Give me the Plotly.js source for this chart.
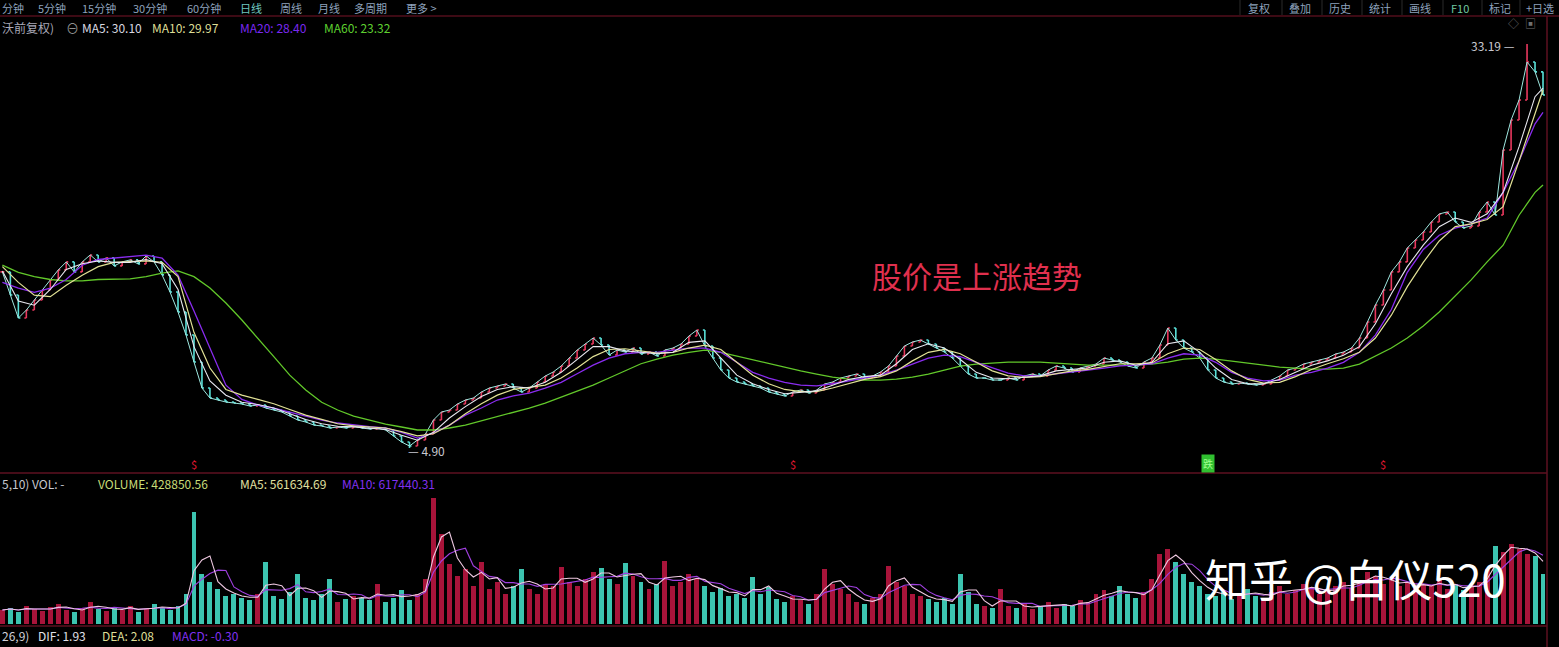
<!DOCTYPE html>
<html>
<head>
<meta charset="utf-8">
<script src="https://cdn.plot.ly/plotly-3.0.1.min.js"></script>
<style>
html,body{margin:0;padding:0;background:#000;}
#chart{width:1559px;height:647px;}
</style>
</head>
<body>
<div id="chart"></div>
<script>
// ---------- DATA ----------
// each point stands for roughly two trading sessions
const closes = [
17.23,15.61,14.00,14.56,15.26,15.96,16.67,17.37,17.93,17.23,
17.93,18.42,17.93,18.21,17.65,17.93,18.07,17.79,18.35,17.93,
17.02,15.82,14.42,12.81,10.92,9.10,8.40,8.26,8.12,8.05,
7.98,7.84,7.91,7.70,7.56,7.42,7.14,6.86,6.72,6.51,
6.44,6.30,6.37,6.30,6.44,6.30,6.23,6.30,6.16,5.74,
5.32,5.04,5.46,5.88,6.86,7.42,7.56,7.98,8.26,8.40,
8.82,9.10,9.24,9.38,9.10,8.82,9.10,9.52,9.94,10.22,
10.64,11.20,11.76,12.18,12.60,12.11,11.41,11.76,11.62,11.90,
11.48,11.62,11.34,11.76,11.90,12.18,12.74,13.16,12.04,11.20,
10.36,9.80,9.52,9.38,9.24,9.10,8.82,8.68,8.54,8.82,
8.96,8.75,8.96,9.38,9.52,9.80,9.94,10.08,9.80,9.94,
10.22,10.64,11.34,12.04,12.32,12.46,12.18,11.90,11.62,11.20,
10.64,10.08,9.80,9.80,9.66,9.66,9.80,9.66,9.94,10.08,
9.94,10.36,10.64,10.50,10.22,10.50,10.64,10.78,11.20,11.06,
10.92,10.64,10.50,10.92,11.20,12.11,13.30,12.46,11.90,11.62,
11.20,10.36,9.80,9.52,9.38,9.45,9.38,9.31,9.38,9.66,
9.94,10.36,10.50,10.78,10.92,11.06,11.20,11.48,11.62,11.90,
12.60,13.72,14.91,15.96,17.23,17.93,18.91,19.47,20.03,20.73,
21.29,21.43,20.73,20.31,20.45,21.43,22.13,21.22,25.77,27.87,
29.27,31.93,31.24,29.62];

// volume, in 万手
const volumes = [
12.0,13.7,10.3,15.4,12.9,11.1,14.6,17.1,12.0,10.3,
13.7,18.9,12.9,11.1,14.6,12.0,15.4,10.3,12.9,17.1,
13.7,12.0,15.4,25.7,96.0,42.9,36.0,30.0,24.0,25.7,
22.3,20.6,25.7,53.1,24.0,21.4,27.4,42.9,22.3,20.6,
25.7,38.6,18.9,21.4,24.0,22.3,20.6,34.3,18.9,22.3,
29.1,20.6,25.7,38.6,108.0,77.1,51.4,41.1,47.1,32.6,
53.1,30.0,36.0,25.7,32.6,47.1,30.0,25.7,34.3,32.6,
48.8,36.0,32.6,38.6,44.6,48.0,38.6,34.3,52.3,41.1,
36.0,30.0,34.3,54.0,32.6,36.0,42.9,38.6,32.6,27.4,
30.9,24.0,25.7,22.3,40.3,25.7,31.7,21.4,18.9,24.0,
20.6,17.1,25.7,47.1,34.3,30.0,25.7,18.9,17.1,22.3,
25.7,49.7,36.0,32.6,25.7,24.0,21.4,18.9,22.3,17.1,
42.9,27.4,17.1,15.4,13.7,30.0,15.4,13.7,17.1,12.9,
15.4,18.9,13.7,17.1,15.4,20.6,18.9,25.7,29.1,24.0,
32.6,25.7,22.3,27.4,38.6,60.0,64.3,53.1,42.9,36.0,
32.6,25.7,24.0,27.4,21.4,25.7,30.0,24.0,22.3,27.4,
32.6,25.7,29.1,34.3,30.9,25.7,29.1,32.6,36.0,30.9,
37.7,44.6,41.1,34.3,38.6,32.6,36.0,30.9,34.3,32.6,
37.7,30.0,34.3,29.1,32.6,36.0,47.1,66.8,61.7,68.6,
64.3,60.0,58.3,42.9];

// moving-average lines, one value every 2 points (last = final point)
const maStep = 2;
const ma5 = [17.3,15.2,14.9,16.0,17.4,17.8,18.0,17.9,17.9,18.1,
17.8,16.0,12.0,9.6,8.6,8.1,7.95,7.7,7.3,6.9,
6.6,6.42,6.38,6.3,6.2,5.8,5.45,6.0,7.0,7.8,
8.5,9.0,9.2,9.1,9.5,10.2,11.1,12.0,12.0,11.7,
11.6,11.5,11.6,12.3,12.4,11.2,10.0,9.4,9.0,8.7,
8.8,8.9,9.3,9.7,9.9,10.0,10.8,11.8,12.2,11.9,
11.1,10.2,9.8,9.75,9.85,9.95,10.3,10.4,10.5,10.9,
11.0,10.7,10.9,12.2,12.4,11.6,10.5,9.7,9.4,9.4,
9.7,10.2,10.7,11.0,11.4,12.0,13.6,15.7,17.6,19.1,
20.4,21.0,20.7,21.3,22.8,26.0,29.5,30.10];
const ma10 = [17.6,16.5,15.6,15.5,16.3,17.0,17.6,17.9,17.95,18.0,
17.9,16.9,13.0,10.5,9.0,8.6,8.3,8.0,7.6,7.2,
6.9,6.6,6.45,6.38,6.3,6.05,5.75,5.9,6.5,7.3,
8.0,8.6,9.0,9.15,9.3,9.8,10.5,11.3,11.8,11.85,
11.7,11.55,11.6,11.9,12.1,11.8,10.9,10.0,9.4,9.0,
8.85,8.85,9.1,9.4,9.7,9.9,10.3,11.0,11.6,11.8,
11.5,10.9,10.3,9.95,9.85,9.9,10.1,10.3,10.4,10.6,
10.8,10.8,10.85,11.5,11.9,11.8,11.1,10.3,9.7,9.45,
9.5,9.9,10.4,10.8,11.15,11.6,12.6,14.2,16.2,17.9,
19.4,20.4,20.6,20.9,21.8,25.0,28.3,29.97];
const ma20 = [16.5,16.1,15.8,16.1,16.7,17.7,18.1,18.2,18.35,18.4,
18.2,17.0,14.5,11.9,9.3,8.3,7.9,7.7,7.4,7.15,
6.85,6.65,6.5,6.4,6.3,6.0,5.6,5.95,6.5,7.2,
7.7,8.26,8.55,8.75,9.1,9.5,10.1,10.7,11.2,11.5,
11.6,11.6,11.75,11.9,11.9,11.6,10.9,10.2,9.8,9.5,
9.3,9.25,9.4,9.6,9.8,10.0,10.35,10.8,11.2,11.4,
11.3,10.9,10.5,10.15,9.95,9.95,10.1,10.2,10.35,10.5,
10.65,10.7,10.8,11.2,11.5,11.4,10.9,10.2,9.8,9.6,
9.65,10.0,10.2,10.5,10.9,11.6,12.8,14.6,17.2,18.8,
19.8,20.3,20.6,21.0,22.8,25.0,27.6,28.40];
const ma60 = [17.7,17.2,16.9,16.7,16.6,16.6,16.7,16.7,16.75,16.9,
17.15,17.3,16.9,16.1,15.05,13.86,12.6,11.3,10.0,8.96,
8.1,7.56,7.14,6.86,6.58,6.37,6.16,6.16,6.3,6.5,
6.8,7.07,7.42,7.7,8.05,8.47,8.9,9.3,9.8,10.3,
10.8,11.13,11.4,11.6,11.76,11.6,11.34,11.06,10.78,10.57,
10.3,10.08,9.87,9.73,9.66,9.66,9.73,9.87,10.08,10.36,
10.64,10.78,10.85,10.92,10.92,10.92,10.85,10.78,10.71,10.71,
10.71,10.71,10.78,10.92,11.13,11.2,11.13,10.99,10.85,10.71,
10.57,10.5,10.43,10.43,10.5,10.78,11.34,11.9,12.6,13.44,
14.42,15.54,16.67,17.93,19.1,21.2,22.8,23.32];

const periodHigh = 33.19, periodHighIdx = 191;
const periodLow = 4.90, periodLowIdx = 51;

const priceMaNames = ['MA5', 'MA10', 'MA20', 'MA60'];
const priceMaValues = [30.10, 29.97, 28.40, 23.32];
const volLegendNames = ['VOLUME', 'MA5', 'MA10'];
const volLegendValues = [428850.56, 561634.69, 617440.31];
const macdNames = ['DIF', 'DEA', 'MACD'];
const macdValues = [1.93, 2.08, -0.30];

const toolbarLeft = ['分钟', '5分钟', '15分钟', '30分钟', '60分钟', '日线', '周线', '月线', '多周期', '更多 >'];
const toolbarRight = ['复权', '叠加', '历史', '统计', '画线', 'F10', '标记', '+日选'];
const signalIdx = [24, 99, 173];
const greenSignalIdx = [151];
const trendNote = '股价是上涨趋势';
const watermark = '知乎 @白仪520';

// ---------- BUILD ----------
const N = closes.length;
const idx = closes.map((_, i) => i);
const opens = closes.map((c, i) => i === 0 ? c : closes[i - 1]);
const highs = closes.map((c, i) => i === periodHighIdx ? periodHigh : Math.max(c, opens[i]));
const lows = closes.map((c, i) => i === periodLowIdx ? periodLow : Math.min(c, opens[i]));
const maX = ma5.map((_, k) => Math.min(k * maStep, N - 1));

function rolling(arr, w) {
  return arr.map((_, i) => {
    const s = Math.max(0, i - w + 1);
    const seg = arr.slice(s, i + 1);
    return seg.reduce((a, b) => a + b, 0) / seg.length;
  });
}
// about 2 sessions per point -> windows of 3 and 5 points
const volMa5 = rolling(volumes, 3);
const volMa10 = rolling(volumes, 5);

const UP = '#e8385e', DOWN = '#58e0d8';
const volColors = closes.map((c, i) => c >= opens[i] ? '#a8143a' : '#3cc4b0');

const W = 1559, H = 647;
const px = x => x / W, py = y => 1 - y / H;
const FONT = '"Noto Sans CJK SC", "DejaVu Sans", sans-serif';

const traces = [
  {type: 'scatter', mode: 'lines', x: idx, y: closes, line: {color: '#9ee8e0', width: 1}, hoverinfo: 'skip'},
  {type: 'ohlc', x: idx, open: opens, high: highs, low: lows, close: closes,
   xaxis: 'x', yaxis: 'y', tickwidth: 0.25,
   increasing: {line: {color: UP, width: 1.6}},
   decreasing: {line: {color: DOWN, width: 1.6}},
   hoverinfo: 'skip'},
  {type: 'scatter', mode: 'lines', x: maX, y: ma60, line: {color: '#62c82a', width: 1.3}, hoverinfo: 'skip'},
  {type: 'scatter', mode: 'lines', x: maX, y: ma20, line: {color: '#8a2cf0', width: 1.3}, hoverinfo: 'skip'},
  {type: 'scatter', mode: 'lines', x: maX, y: ma10, line: {color: '#e2e296', width: 1.2}, hoverinfo: 'skip'},
  {type: 'scatter', mode: 'lines', x: maX, y: ma5, line: {color: '#e8e8f0', width: 1.1}, hoverinfo: 'skip'},
  {type: 'bar', x: idx, y: volumes, xaxis: 'x2', yaxis: 'y2', width: 0.62,
   marker: {color: volColors, line: {width: 0}}, hoverinfo: 'skip'},
  {type: 'scatter', mode: 'lines', x: idx, y: volMa10, xaxis: 'x2', yaxis: 'y2',
   line: {color: '#a040e0', width: 1.1}, hoverinfo: 'skip'},
  {type: 'scatter', mode: 'lines', x: idx, y: volMa5, xaxis: 'x2', yaxis: 'y2',
   line: {color: '#eec8e0', width: 1.1}, hoverinfo: 'skip'}
];

const ann = [];
function txt(text, x, y, color, size, xanchor) {
  ann.push({text: text, x: px(x), y: py(y), xref: 'paper', yref: 'paper',
    xanchor: xanchor || 'left', yanchor: 'middle', showarrow: false,
    font: {family: FONT, size: size, color: color}});
}
// toolbar
const tbX = [0, 36, 80, 131, 185, 238, 278, 316, 352, 404];
toolbarLeft.forEach((t, i) => txt(t, tbX[i], 8, i === 5 ? '#70c8c0' : '#8ea2bc', 11));
const tbRX = [1246, 1287, 1327, 1367, 1407, 1449, 1487, 1524];
toolbarRight.forEach((t, i) => txt(t, tbRX[i], 8, i === 5 ? '#70c8a0' : '#8ea2bc', 11));

// price legend
txt('沃前复权)', 0, 27, '#a8a8b8', 12);
txt('⊖', 64, 27, '#909090', 13);
const maLegX = [80, 150, 238, 322];
const maLegC = ['#d8d8e0', '#dede96', '#7a28f0', '#5ed030'];
priceMaNames.forEach((n, i) => txt(n + ': ' + priceMaValues[i].toFixed(2), maLegX[i], 27, maLegC[i], 12));

// vol legend
txt('5,10) VOL: -', 0, 483, '#c8c8d0', 12);
const vLegX = [96, 238, 340];
const vLegC = ['#c8dc78', '#e0e0a0', '#8030f0'];
volLegendNames.forEach((n, i) => txt(n + ': ' + volLegendValues[i].toFixed(2), vLegX[i], 483, vLegC[i], 12));

// macd legend
txt('26,9)', 0, 635, '#d0d0d8', 12);
const mLegX = [36, 100, 170];
const mLegC = ['#e0e0e8', '#dede96', '#8030f0'];
macdNames.forEach((n, i) => txt(n + ': ' + macdValues[i].toFixed(2), mLegX[i], 635, mLegC[i], 12));

// high / low labels (data anchored)
ann.push({text: periodHigh.toFixed(2) + ' —', x: periodHighIdx - 1.2, y: periodHigh - 0.1, xref: 'x', yref: 'y',
  xanchor: 'right', yanchor: 'middle', showarrow: false, font: {family: FONT, size: 12, color: '#c8c8d0'}});
ann.push({text: '— ' + periodLow.toFixed(2), x: periodLowIdx - 0.5, y: periodLow - 0.2, xref: 'x', yref: 'y',
  xanchor: 'left', yanchor: 'middle', showarrow: false, font: {family: FONT, size: 12, color: '#c8c8d0'}});

// signal marks
signalIdx.forEach(i => ann.push({text: '$', x: i, y: py(464), xref: 'x', yref: 'paper', showarrow: false,
  xanchor: 'center', yanchor: 'middle', font: {family: FONT, size: 11, color: '#e01830'}}));
greenSignalIdx.forEach(i => ann.push({text: '跌', x: i, y: py(463), xref: 'x', yref: 'paper', showarrow: false,
  xanchor: 'center', yanchor: 'middle', bgcolor: '#30c030', font: {family: FONT, size: 10, color: '#a0ff90'}}));

// icons top right
txt('◇', 1506, 23, '#707070', 11);
txt('▣', 1523, 23, '#707070', 11);

// notes
txt(trendNote, 977, 275, '#e0304e', 30, 'center');
txt(watermark, 1355, 578, '#ffffff', 44, 'center');

const lineCol = '#5e1020';
const shapes = [
  {type: 'line', xref: 'paper', yref: 'paper', x0: 0, x1: 1, y0: py(16), y1: py(16), line: {color: '#7a1428', width: 1}},
  {type: 'line', xref: 'paper', yref: 'paper', x0: 0, x1: px(1547), y0: py(473), y1: py(473), line: {color: lineCol, width: 1.5}},
  {type: 'line', xref: 'paper', yref: 'paper', x0: 0, x1: px(1547), y0: py(626), y1: py(626), line: {color: lineCol, width: 1.5}},
  {type: 'line', xref: 'paper', yref: 'paper', x0: px(1547), x1: px(1547), y0: py(16), y1: 0, line: {color: lineCol, width: 1.5}}
];
[1240, 1282, 1322, 1362, 1402, 1443, 1482, 1520].forEach(x => shapes.push(
  {type: 'line', xref: 'paper', yref: 'paper', x0: px(x), x1: px(x), y0: py(0), y1: py(15), line: {color: '#2a2a2a', width: 1}}));

const xr = [-0.3, 193.5];
const layout = {
  width: W, height: H,
  margin: {l: 0, r: 0, t: 0, b: 0, pad: 0},
  paper_bgcolor: '#000', plot_bgcolor: '#000',
  showlegend: false,
  font: {family: FONT, color: '#ccc'},
  xaxis: {domain: [0, px(1547)], range: xr, anchor: 'y', showgrid: false, zeroline: false,
          showticklabels: false, ticks: '', rangeslider: {visible: false}, fixedrange: true},
  xaxis2: {domain: [0, px(1547)], range: xr, anchor: 'y2', matches: 'x', showgrid: false, zeroline: false,
           showticklabels: false, ticks: ''},
  yaxis: {domain: [py(472), py(18)], range: [3.22, 35.01], showgrid: false, zeroline: false,
          showticklabels: false, ticks: ''},
  yaxis2: {domain: [py(624), py(476)], range: [0, 126.8], showgrid: false, zeroline: false,
           showticklabels: false, ticks: ''},
  bargap: 0,
  annotations: ann,
  shapes: shapes
};

Plotly.newPlot('chart', traces, layout, {displayModeBar: false, staticPlot: true});
</script>
</body>
</html>
